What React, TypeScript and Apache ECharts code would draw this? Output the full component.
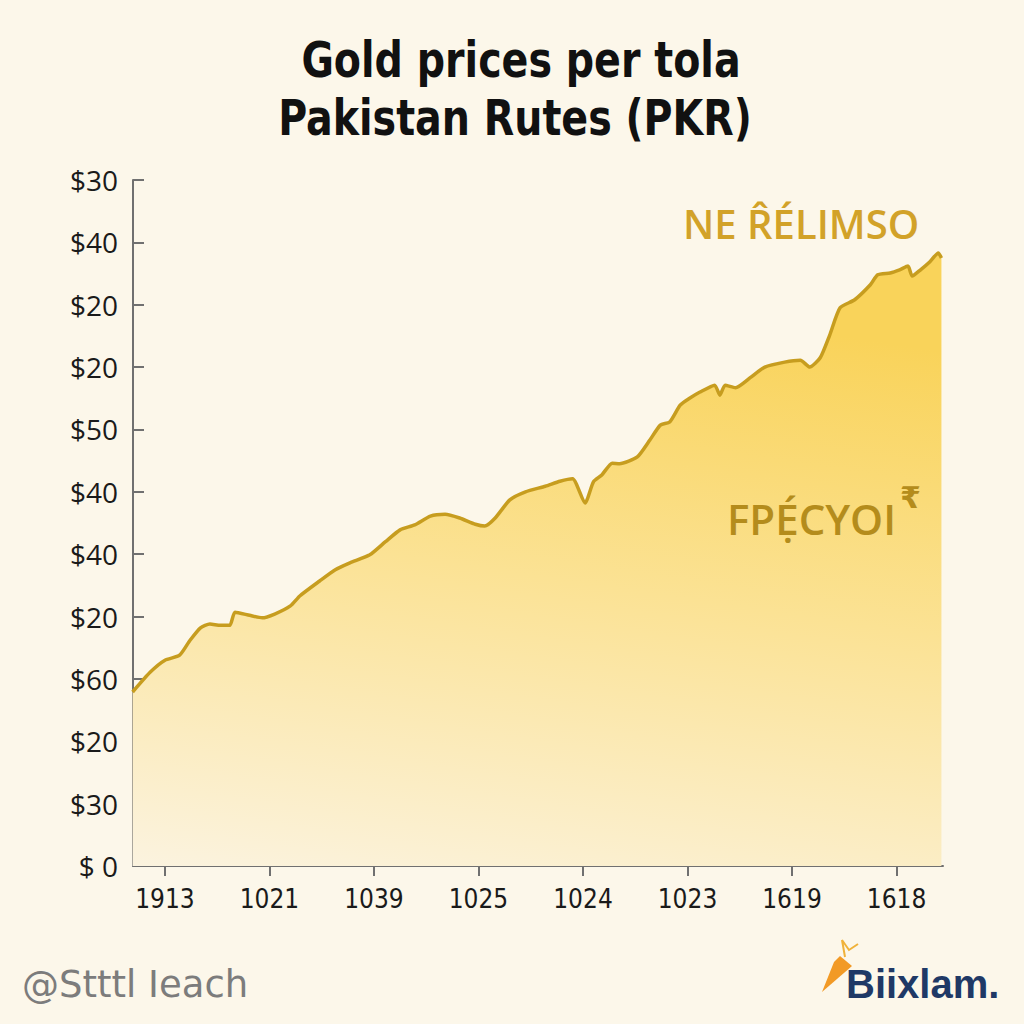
import React, { useEffect, useRef } from "react";
import * as echarts from "echarts";

const titleLines = ["Gold prices per tola", "Pakistan Rutes (PKR)"];
const xTickLabels = ["1913", "1021", "1039", "1025", "1024", "1023", "1619", "1618"];
const yTickLabels = ["$ 0", "$30", "$20", "$60", "$20", "$40", "$40", "$50", "$20", "$20", "$40", "$30"];

// x in label-index units, y in tick-index units
const xs = [
  -0.31, -0.14, 0, 0.14, 0.24, 0.34, 0.43, 0.53, 0.62, 0.67, 0.81, 0.93, 1.05, 1.2, 1.29,
  1.48, 1.63, 1.77, 1.96, 2.11, 2.25, 2.39, 2.54, 2.68, 2.82, 2.97, 3.06, 3.16, 3.3, 3.45,
  3.64, 3.78, 3.9, 4.02, 4.1, 4.18, 4.28, 4.35, 4.52, 4.64, 4.74, 4.83, 4.93, 5.02, 5.12,
  5.26, 5.31, 5.36, 5.46, 5.6, 5.74, 5.93, 6.08, 6.17, 6.27, 6.36, 6.46, 6.6, 6.75, 6.82,
  6.94, 7.03, 7.11, 7.15, 7.23, 7.32, 7.4, 7.43,
];
const ys = [
  2.79, 3.11, 3.3, 3.38, 3.62, 3.82, 3.88, 3.86, 3.86, 4.07, 4.02, 3.98, 4.04, 4.17, 4.33,
  4.57, 4.75, 4.86, 4.99, 5.2, 5.39, 5.47, 5.61, 5.64, 5.58, 5.48, 5.45, 5.58, 5.87, 6.0,
  6.09, 6.17, 6.21, 5.82, 6.16, 6.27, 6.46, 6.45, 6.56, 6.83, 7.07, 7.12, 7.39, 7.5, 7.6,
  7.71, 7.55, 7.71, 7.67, 7.83, 8.0, 8.08, 8.11, 8.0, 8.15, 8.51, 8.95, 9.08, 9.32, 9.48,
  9.51, 9.56, 9.62, 9.46, 9.56, 9.69, 9.83, 9.75,
];

export default function App() {
  const ref = useRef<HTMLDivElement>(null);
  useEffect(() => {
    document.body.style.margin = "0";
    document.body.style.overflow = "hidden";
    document.body.style.background = "#fcf7ea";
    if (!ref.current) return;
    const chart = echarts.init(ref.current, null, { renderer: "svg" });
    const data = xs.map((x, i) => [x, ys[i]]);
    const titleFont = "'DejaVu Sans Condensed', sans-serif";
    chart.setOption({
      animation: false,
      backgroundColor: "#fcf7ea",
      grid: { left: 133, right: 81, top: 180, bottom: 158, containLabel: false },
      xAxis: {
        type: "value",
        min: -0.306,
        max: 7.445,
        splitLine: { show: false },
        axisLine: { onZero: false, lineStyle: { color: "#707070", width: 2 } },
        axisTick: {
          show: true,
          length: 10,
          lineStyle: { color: "#707070", width: 2 },
          customValues: xTickLabels.map((_, i) => i),
        },
        axisLabel: {
          customValues: xTickLabels.map((_, i) => i),
          formatter: (v: number) => xTickLabels[Math.round(v)] ?? "",
          margin: 20,
          fontFamily: "'DejaVu Sans Condensed', sans-serif",
          fontSize: 26,
          color: "#1a1a1a",
        },
      },
      yAxis: {
        type: "value",
        min: 0,
        max: 11,
        interval: 1,
        splitLine: { show: false },
        axisLine: { show: true, onZero: false, lineStyle: { color: "#707070", width: 2 } },
        axisTick: { show: true, inside: true, length: 11, lineStyle: { color: "#707070", width: 2 } },
        axisLabel: {
          formatter: (v: number) => yTickLabels[Math.round(v)] ?? "",
          margin: 15,
          fontFamily: "Open Sans",
          fontSize: 28,
          color: "#1a1a1a",
        },
      },
      series: [
        {
          type: "line",
          data,
          showSymbol: false,
          smooth: 0.2,
          lineStyle: { color: "#c79d1f", width: 3.5 },
          areaStyle: {
            opacity: 1,
            color: new echarts.graphic.LinearGradient(0.2, 0, 0, 1, [
              { offset: 0, color: "#f9d35a" },
              { offset: 0.45, color: "#fbe294" },
              { offset: 1, color: "#fbf3df" },
            ]),
          },
        },
      ],
      graphic: [
        {
          type: "text",
          x: 521,
          y: 59,
          scaleY: 1.15,
          z: 100,
          style: {
            text: titleLines[0],
            fontFamily: titleFont,
            fontWeight: "bold",
            fontSize: 44,
            fill: "#111",
            align: "center",
            verticalAlign: "middle",
          },
        },
        {
          type: "text",
          x: 515,
          y: 117,
          scaleY: 1.15,
          z: 100,
          style: {
            text: titleLines[1],
            fontFamily: titleFont,
            fontWeight: "bold",
            fontSize: 44,
            fill: "#111",
            align: "center",
            verticalAlign: "middle",
          },
        },
        {
          type: "text",
          left: 683,
          top: 203,
          z: 100,
          style: {
            text: "NE R\u0302ÉLIMSO",
            fontFamily: "Open Sans",
            fontWeight: 600,
            fontSize: 40,
            fill: "#d2a229",
          },
        },
        {
          type: "text",
          left: 727,
          top: 497,
          z: 100,
          style: {
            text: "FPẸ́CYOI",
            fontFamily: "Open Sans",
            fontWeight: 600,
            fontSize: 42,
            fill: "#b48c1c",
          },
        },
        {
          type: "text",
          left: 900,
          top: 482,
          z: 100,
          style: {
            text: "₹",
            fontFamily: "DejaVu Sans",
            fontWeight: "bold",
            fontSize: 30,
            fill: "#b48c1c",
          },
        },
        {
          type: "text",
          left: 22,
          top: 966,
          z: 100,
          style: {
            text: "@Stttl Ieach",
            fontFamily: "DejaVu Sans",
            fontSize: 37,
            fill: "#7c7c7c",
          },
        },
        {
          type: "polygon",
          z: 100,
          shape: { points: [[840, 956], [852, 966], [822, 992], [834, 962]] },
          style: { fill: "#f29a26" },
        },
        {
          type: "polyline",
          z: 100,
          shape: { points: [[845, 957], [842, 940], [849, 950], [858, 944]] },
          style: { stroke: "#f0b23a", lineWidth: 2, fill: "none" },
        },
        {
          type: "text",
          left: 846,
          top: 964,
          z: 100,
          style: {
            text: "Biixlam.",
            fontFamily: "Liberation Sans",
            fontWeight: "bold",
            fontSize: 40,
            fill: "#1f3966",
          },
        },
      ],
    });
    return () => chart.dispose();
  }, []);
  return <div ref={ref} style={{ width: 1024, height: 1024 }} />;
}
